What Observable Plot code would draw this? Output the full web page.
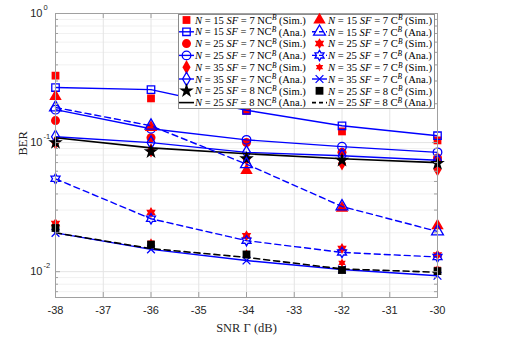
<!DOCTYPE html>
<html><head><meta charset="utf-8">
<script src="https://cdn.jsdelivr.net/npm/d3@7"></script>
<script src="https://cdn.jsdelivr.net/npm/@observablehq/plot@0.6"></script>
<style>body{margin:0;background:#fff}</style>
</head><body><div id="chart"></div>
<script>
// ---- data ----
const snr = [-38, -36, -34, -32, -30];
const xTicks = [-38, -37, -36, -35, -34, -33, -32, -31, -30];
const yDecades = [1, 0.1, 0.01];
const yDecadeExp = ["0", "-1", "-2"];
const yMinor = [0.007, 0.008, 0.009, 0.02, 0.03, 0.04, 0.05, 0.06, 0.07, 0.08, 0.09,
                0.2, 0.3, 0.4, 0.5, 0.6, 0.7, 0.8, 0.9];

// NC^B
const nc_N15_SF7_sim = [0.33, 0.22, 0.176, 0.122, 0.104];
const nc_N15_SF7_ana = [0.267, 0.257, 0.178, 0.135, 0.113];
const nc_N25_SF7_sim = [0.148, 0.109, 0.100, 0.084, 0.076];
const nc_N25_SF7_ana = [0.18, 0.128, 0.105, 0.093, 0.084];
const nc_N35_SF7_sim = [0.100, 0.087, 0.075, 0.069, 0.062];
const nc_N35_SF7_ana = [0.111, 0.100, 0.084, 0.079, 0.073];
const nc_N25_SF8_sim = [0.100, 0.085, 0.075, 0.073, 0.069];
const nc_N25_SF8_ana = [0.109, 0.091, 0.082, 0.075, 0.070];
// C^B
const c_N15_SF7_sim = [0.228, 0.131, 0.061, 0.031, 0.0227];
const c_N15_SF7_ana = [0.187, 0.135, 0.068, 0.032, 0.0205];
const c_N25_SF7_sim = [0.0236, 0.0287, 0.019, 0.0151, 0.0135];
const c_N25_SF7_ana = [0.0524, 0.0257, 0.0174, 0.0141, 0.013];
const c_N35_SF7_sim = [0.0235, 0.0168, 0.0138, 0.0117, 0.0105];
const c_N35_SF7_ana = [0.020, 0.0149, 0.0122, 0.0104, 0.0093];
const c_N25_SF8_sim = [0.0218, 0.0162, 0.0136, 0.0103, 0.0101];
const c_N25_SF8_ana = [0.020, 0.0151, 0.0129, 0.0105, 0.0099];

// ---- styles ----
const RED = "#ff0000", BLUE = "#0000ff", BLACK = "#000000";
const hexagram = {draw(ctx, size) {
  const R = Math.sqrt(size / Math.PI) * 1.3, r = R / Math.sqrt(3);
  for (let i = 0; i < 12; i++) {
    const a = -Math.PI / 2 + i * Math.PI / 6, rr = i % 2 === 0 ? R : r;
    const px = rr * Math.cos(a), py = rr * Math.sin(a);
    i ? ctx.lineTo(px, py) : ctx.moveTo(px, py);
  }
  ctx.closePath();
}};

const series = [
  {N: 15, SF: 7, t: "NC", k: "Sim.", v: nc_N15_SF7_sim, sym: d3.symbolSquare, fill: RED, r: 4.4},
  {N: 15, SF: 7, t: "NC", k: "Ana.", v: nc_N15_SF7_ana, sym: d3.symbolSquare, stroke: BLUE, r: 4.2, line: BLUE},
  {N: 25, SF: 7, t: "NC", k: "Sim.", v: nc_N25_SF7_sim, sym: d3.symbolCircle, fill: RED, r: 4.5},
  {N: 25, SF: 7, t: "NC", k: "Ana.", v: nc_N25_SF7_ana, sym: d3.symbolCircle, stroke: BLUE, r: 4.3, line: BLUE},
  {N: 35, SF: 7, t: "NC", k: "Sim.", v: nc_N35_SF7_sim, sym: d3.symbolDiamond, fill: RED, r: 4.3},
  {N: 35, SF: 7, t: "NC", k: "Ana.", v: nc_N35_SF7_ana, sym: d3.symbolDiamond, stroke: BLUE, r: 4.1, line: BLUE},
  {N: 25, SF: 8, t: "NC", k: "Sim.", v: nc_N25_SF8_sim, sym: d3.symbolStar, fill: BLACK, r: 4.6},
  {N: 25, SF: 8, t: "NC", k: "Ana.", v: nc_N25_SF8_ana, line: BLACK, lw: 1.6},
  {N: 15, SF: 7, t: "C", k: "Sim.", v: c_N15_SF7_sim, sym: d3.symbolTriangle, fill: RED, r: 4.6},
  {N: 15, SF: 7, t: "C", k: "Ana.", v: c_N15_SF7_ana, sym: d3.symbolTriangle, stroke: BLUE, r: 4.4, line: BLUE, dash: "6,4"},
  {N: 25, SF: 7, t: "C", k: "Sim.", v: c_N25_SF7_sim, sym: hexagram, fill: RED, r: 4.2},
  {N: 25, SF: 7, t: "C", k: "Ana.", v: c_N25_SF7_ana, sym: hexagram, stroke: BLUE, r: 4.0, line: BLUE, dash: "6,4"},
  {N: 35, SF: 7, t: "C", k: "Sim.", v: c_N35_SF7_sim, sym: hexagram, fill: RED, r: 3.3},
  {N: 35, SF: 7, t: "C", k: "Ana.", v: c_N35_SF7_ana, sym: d3.symbolTimes, stroke: BLUE, r: 3.6, line: BLUE},
  {N: 25, SF: 8, t: "C", k: "Sim.", v: c_N25_SF8_sim, sym: d3.symbolSquare, fill: BLACK, r: 4.4},
  {N: 25, SF: 8, t: "C", k: "Ana.", v: c_N25_SF8_ana, line: BLACK, lw: 1.6, dash: "6,4"}
];

const W = 526, H = 346, mL = 55, mR = 89, mT = 13, mB = 49;
const frameW = W - mL - mR, frameH = H - mT - mB;
const GRID = "#e4e4e4", MINOR = "#f1f1f1", AX = "#a0a0a0", TXT = "#262626";
const sans = "Liberation Sans, Arial, sans-serif";
const serif = "Liberation Serif, Times New Roman, serif";

const marks = [
  Plot.ruleY(yMinor, {y: d => d, stroke: MINOR}),
  Plot.ruleY(yDecades.slice(1), {y: d => d, stroke: GRID}),
  Plot.ruleX(xTicks.slice(1, -1), {x: d => d, stroke: GRID}),
];
for (const s of series) {
  const rows = snr.map((x, i) => ({x, y: s.v[i]}));
  if (s.line) marks.push(Plot.line(rows, {x: "x", y: "y", stroke: s.line, strokeWidth: s.lw || 1.4, strokeDasharray: s.dash}));
  if (s.sym) marks.push(Plot.dot(rows, {x: "x", y: "y", symbol: s.sym, r: s.r,
    fill: s.fill || "none", stroke: s.stroke || "none", strokeWidth: 1.3}));
}
marks.push(
  Plot.frame({stroke: AX}),
  Plot.tickX(xTicks, {x: d => d, insetTop: frameH - 5, stroke: AX}),
  Plot.tickX(xTicks, {x: d => d, insetBottom: frameH - 5, stroke: AX}),
  Plot.tickY(yDecades, {y: d => d, insetRight: frameW - 5, stroke: AX}),
  Plot.tickY(yDecades, {y: d => d, insetLeft: frameW - 5, stroke: AX}),
  Plot.tickY(yMinor, {y: d => d, insetRight: frameW - 3, stroke: AX}),
  Plot.tickY(yMinor, {y: d => d, insetLeft: frameW - 3, stroke: AX}),
  Plot.text(xTicks, {x: d => d, frameAnchor: "bottom", dy: 13, text: d => String(d), fontSize: 11, fontFamily: sans, fill: TXT, lineAnchor: "middle"}),
  Plot.text(yDecades, {y: d => d, frameAnchor: "left", dx: -13, text: () => "10", textAnchor: "end", fontSize: 11, fontFamily: sans, fill: TXT, lineAnchor: "middle"}),
  Plot.text(yDecades, {y: d => d, frameAnchor: "left", dx: -12, dy: -6, text: (d, i) => yDecadeExp[i], textAnchor: "start", fontSize: 7.5, fontFamily: sans, fill: TXT, lineAnchor: "middle"}),
  Plot.text(["SNR Γ (dB)"], {frameAnchor: "bottom", dy: 30, fontSize: 12.5, fontFamily: serif, fill: TXT, lineAnchor: "middle"}),
  Plot.text(["BER"], {frameAnchor: "left", dx: -33, rotate: -90, fontSize: 12.5, fontFamily: serif, fill: TXT, lineAnchor: "middle"})
);

const chart = Plot.plot({
  width: W, height: H, marginLeft: mL, marginRight: mR, marginTop: mT, marginBottom: mB,
  x: {domain: [-38, -30], axis: null},
  y: {type: "log", domain: [Math.pow(10, -2.2), 1], axis: null},
  marks
});
document.getElementById("chart").appendChild(chart);

// ---- legend ----
const svg = d3.select(chart);
const L = {x0: 178, y0: 14, x1: 434, y1: 108, row0: 20, dy: 11.8, colX: [178, 311], target: [111, 104]};
const g = svg.append("g").attr("text-anchor", "start");
g.append("rect").attr("x", L.x0 + 0.5).attr("y", L.y0 + 0.5).attr("width", L.x1 - L.x0).attr("height", L.y1 - L.y0)
  .attr("fill", "#ffffff").attr("stroke", "#8c8c8c");
series.forEach((s, idx) => {
  const col = idx < 8 ? 0 : 1, row = idx % 8;
  const cx = L.colX[col], cy = L.row0 + row * L.dy;
  if (s.line) g.append("line").attr("x1", cx + 1).attr("x2", cx + 16).attr("y1", cy).attr("y2", cy)
    .attr("stroke", s.line).attr("stroke-width", s.lw || 1.4).attr("stroke-dasharray", s.dash ? "4,3" : null);
  if (s.sym) g.append("path").attr("transform", `translate(${cx + 8.5},${cy})`)
    .attr("d", d3.symbol(s.sym, Math.PI * s.r * s.r)())
    .attr("fill", s.fill || "none").attr("stroke", s.stroke || "none").attr("stroke-width", 1.3);
  const t = g.append("text").attr("x", cx + 17).attr("y", cy).attr("dy", "0.35em")
    .attr("text-anchor", "start").style("white-space", "pre")
    .attr("font-family", serif).attr("font-size", 10).attr("fill", "#000");
  t.append("tspan").attr("font-style", "italic").text("N");
  t.append("tspan").text(` = ${s.N} `);
  t.append("tspan").attr("font-style", "italic").text("SF");
  t.append("tspan").text(` = ${s.SF} ${s.t}`);
  t.append("tspan").attr("font-style", "italic").attr("font-size", "0.7em").attr("dy", "-0.45em").text("B");
  t.append("tspan").attr("dy", "0.32em").text(` (${s.k})`);
  const w = t.node().getComputedTextLength();
  if (w > 0) t.attr("font-size", Math.min(11.5, 10 * L.target[col] / w));
});
</script>
</body></html>
